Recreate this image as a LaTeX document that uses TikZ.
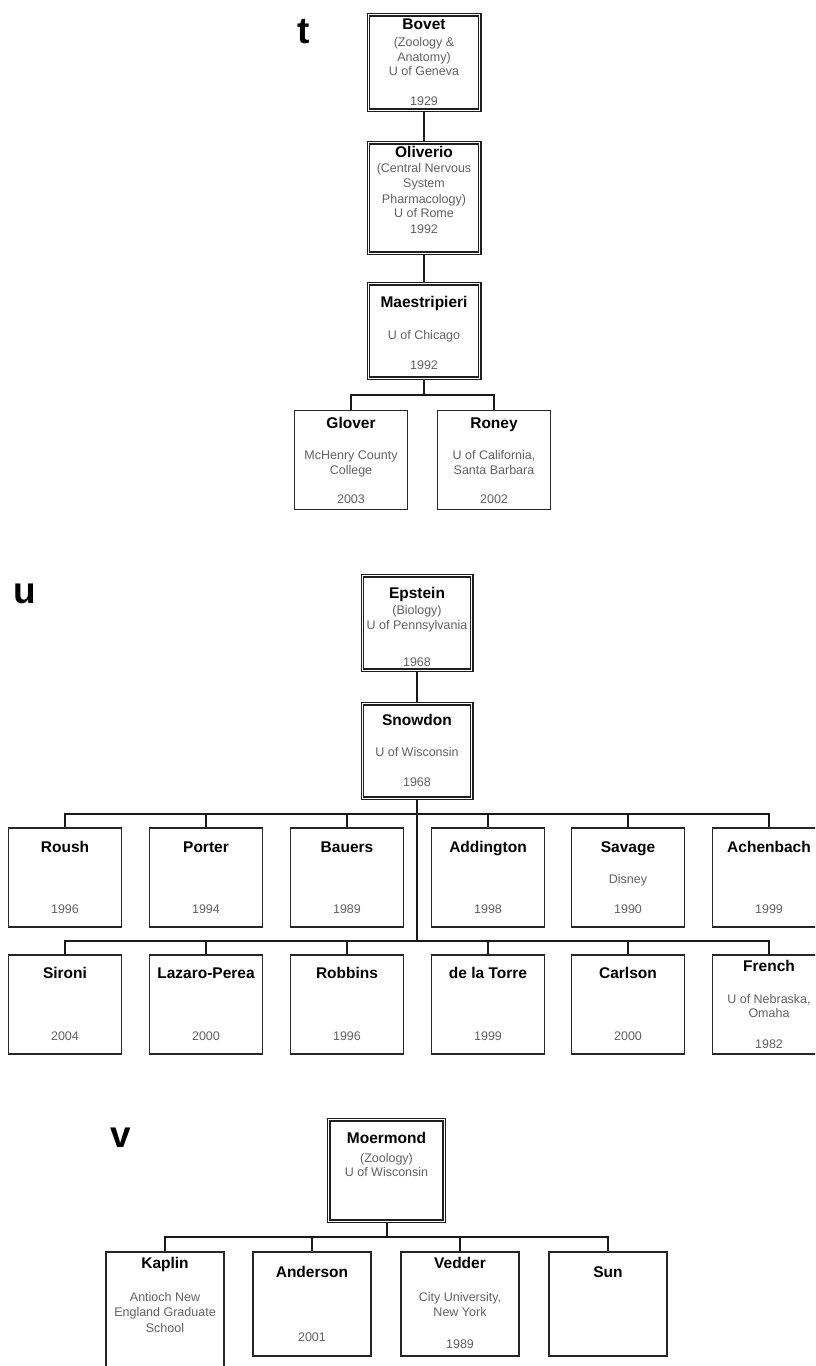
\documentclass[tikz,border=0pt]{standalone}
\usepackage{fontspec}
\setmainfont{Liberation Sans}
\pgfdeclarelayer{bg}
\pgfsetlayers{bg,main}
\tikzset{
  plain/.style={draw=black!85, line width=1.3pt, fill=white, inner sep=0pt,
                minimum width=113pt, minimum height=98.8pt},
  dbl/.style={draw=black!88, line width=1.4pt, double=white, double distance=1.0pt,
              fill=white, inner sep=0pt},
  nm/.style={font=\fontsize{15.5}{17}\selectfont\bfseries, text height=12.5pt,
             text depth=2pt, inner sep=0pt},
  info/.style={font=\fontsize{12.5}{15}\selectfont, text=black!62, text height=10.5pt,
               text depth=1.5pt, inner sep=0pt},
  lbl/.style={font=\fontsize{37}{40}\selectfont\bfseries, anchor=base, inner sep=0pt},
  link/.style={line width=2pt, draw=black!90},
}
\begin{document}
\begin{tikzpicture}[x=1pt, y=-1pt]
\useasboundingbox (0,0) rectangle (815,1366);
\clip (0,0) rectangle (815,1366);

% ---------------- panel t ----------------
\node[lbl] (lt) at (304,43) {t};

\node[dbl, minimum width=111.2pt, minimum height=95.2pt] (bovet) at (424,62.5) {};
\node[nm]   (bovet1) at (424,24)  {Bovet};
\node[info] (bovet2) at (424,42)  {(Zoology \&};
\node[info] (bovet3) at (424,57)  {Anatomy)};
\node[info] (bovet4) at (424,71)  {U of Geneva};
\node[info] (bovet5) at (424,101) {1929};

\node[dbl, minimum width=111.2pt, minimum height=110.2pt] (oliv) at (424,198) {};
\node[nm]   (oliv1) at (424,152) {Oliverio};
\node[info] (oliv2) at (424,168) {(Central Nervous};
\node[info] (oliv3) at (424,183) {System};
\node[info] (oliv4) at (424,199) {Pharmacology)};
\node[info] (oliv5) at (424,213) {U of Rome};
\node[info] (oliv6) at (424,229) {1992};

\node[dbl, minimum width=111.2pt, minimum height=94.2pt] (mae) at (424,331) {};
\node[nm]   (mae1) at (424,302) {Maestripieri};
\node[info] (mae2) at (424,335) {U of Chicago};
\node[info] (mae3) at (424,365) {1992};

\node[plain] (glo) at (351,460) {};
\node[nm]   (glo1) at (351,423) {Glover};
\node[info] (glo2) at (351,455) {McHenry County};
\node[info] (glo3) at (351,470) {College};
\node[info] (glo4) at (351,499) {2003};

\node[plain] (ron) at (494,460) {};
\node[nm]   (ron1) at (494,423) {Roney};
\node[info] (ron2) at (494,455) {U of California,};
\node[info] (ron3) at (494,470) {Santa Barbara};
\node[info] (ron4) at (494,499) {2002};

\coordinate (tbar) at (424,395);

% ---------------- panel u ----------------
\node[lbl] (lu) at (24.5,603) {u};

\node[dbl, minimum width=109.2pt, minimum height=94.2pt] (eps) at (417,623) {};
\node[nm]   (eps1) at (417,593) {Epstein};
\node[info] (eps2) at (417,610) {(Biology)};
\node[info] (eps3) at (417,625) {U of Pennsylvania};
\node[info] (eps4) at (417,662) {1968};

\node[dbl, minimum width=109.2pt, minimum height=94.2pt] (snow) at (417,751) {};
\node[nm]   (snow1) at (417,720) {Snowdon};
\node[info] (snow2) at (417,752) {U of Wisconsin};
\node[info] (snow3) at (417,782) {1968};

% first row of students
\node[plain] (rou) at (65,877.5)  {};
\node[plain] (por) at (206,877.5) {};
\node[plain] (bau) at (347,877.5) {};
\node[plain] (add) at (488,877.5) {};
\node[plain] (sav) at (628,877.5) {};
\node[plain] (ach) at (769,877.5) {};
\node[nm] (rou1) at (65,847)  {Roush};
\node[nm] (por1) at (206,847) {Porter};
\node[nm] (bau1) at (347,847) {Bauers};
\node[nm] (add1) at (488,847) {Addington};
\node[nm] (sav1) at (628,847) {Savage};
\node[nm] (ach1) at (769,847) {Achenbach};
\node[info] (sav2) at (628,879) {Disney};
\node[info] (rou2) at (65,909)  {1996};
\node[info] (por2) at (206,909) {1994};
\node[info] (bau2) at (347,909) {1989};
\node[info] (add2) at (488,909) {1998};
\node[info] (sav3) at (628,909) {1990};
\node[info] (ach2) at (769,909) {1999};

% second row of students
\node[plain] (sir) at (65,1004.5)  {};
\node[plain] (laz) at (206,1004.5) {};
\node[plain] (rob) at (347,1004.5) {};
\node[plain] (tor) at (488,1004.5) {};
\node[plain] (car) at (628,1004.5) {};
\node[plain] (fre) at (769,1004.5) {};
\node[nm] (sir1) at (65,973)  {Sironi};
\node[nm] (laz1) at (206,973) {Lazaro-Perea};
\node[nm] (rob1) at (347,973) {Robbins};
\node[nm] (tor1) at (488,973) {de la Torre};
\node[nm] (car1) at (628,973) {Carlson};
\node[nm] (fre1) at (769,966) {French};
\node[info] (fre2) at (769,999)  {U of Nebraska,};
\node[info] (fre3) at (769,1013) {Omaha};
\node[info] (sir2) at (65,1036)  {2004};
\node[info] (laz2) at (206,1036) {2000};
\node[info] (rob2) at (347,1036) {1996};
\node[info] (tor2) at (488,1036) {1999};
\node[info] (car2) at (628,1036) {2000};
\node[info] (fre4) at (769,1044) {1982};

\coordinate (ubar1) at (417,814);
\coordinate (ubar2) at (417,941);

% ---------------- panel v ----------------
\node[lbl] (lv) at (121,1147) {v};

\node[dbl, minimum width=115.2pt, minimum height=101.2pt] (moe) at (386.5,1170.5) {};
\node[nm]   (moe1) at (386.5,1138) {Moermond};
\node[info] (moe2) at (386.5,1158) {(Zoology)};
\node[info] (moe3) at (386.5,1172) {U of Wisconsin};

\node[plain, minimum width=118pt, minimum height=148pt] (kap) at (165,1326) {};
\node[nm]   (kap1) at (165,1263) {Kaplin};
\node[info] (kap2) at (165,1297) {Antioch New};
\node[info] (kap3) at (165,1312) {England Graduate};
\node[info] (kap4) at (165,1328) {School};

\node[plain, minimum width=118pt, minimum height=104pt] (and) at (312,1304) {};
\node[nm]   (and1) at (312,1272) {Anderson};
\node[info] (and2) at (312,1337) {2001};

\node[plain, minimum width=118pt, minimum height=104pt] (ved) at (460,1304) {};
\node[nm]   (ved1) at (460,1263) {Vedder};
\node[info] (ved2) at (460,1297) {City University,};
\node[info] (ved3) at (460,1312) {New York};
\node[info] (ved4) at (460,1344) {1989};

\node[plain, minimum width=118pt, minimum height=104pt] (sun) at (608,1304) {};
\node[nm]   (sun1) at (608,1272) {Sun};

\coordinate (vbar) at (387,1237);

% ---------------- connectors ----------------
\begin{pgfonlayer}{bg}
  \draw[link] (bovet) -- (oliv);
  \draw[link] (oliv) -- (mae);
  \draw[link] (mae.south) -- (tbar) -| (glo.north);
  \draw[link] (tbar) -| (ron.north);

  \draw[link] (eps) -- (snow);
  \draw[link] (snow.south) -- (ubar2);
  \foreach \c in {rou,por,bau,add,sav,ach}
    \draw[link] (ubar1) -| (\c.north);
  \foreach \c in {sir,laz,rob,tor,car,fre}
    \draw[link] (ubar2) -| (\c.north);

  \draw[link] (moe.south -| vbar) -- (vbar);
  \foreach \c in {kap,and,ved,sun}
    \draw[link] (vbar) -| (\c.north);
\end{pgfonlayer}
\end{tikzpicture}
\end{document}
